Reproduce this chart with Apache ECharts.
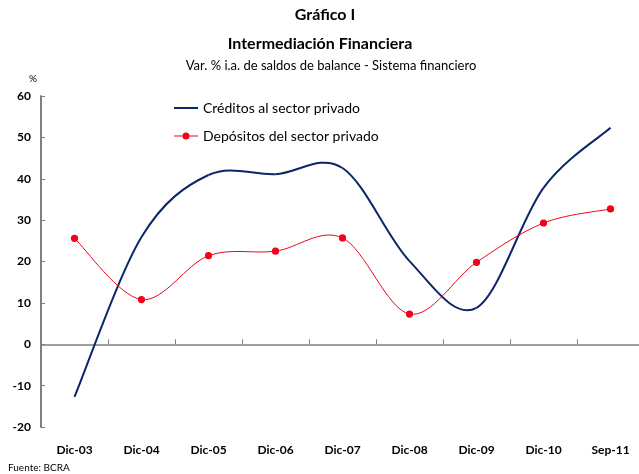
<!DOCTYPE html>
<html>
<head>
<meta charset="utf-8">
<style>
  html, body { margin: 0; padding: 0; background: #fff; }
  #chart { width: 639px; height: 474px; }
</style>
<script src="https://cdn.jsdelivr.net/npm/echarts@6/dist/echarts.min.js"></script>
</head>
<body>
<div id="chart"></div>
<script>
const categories = ['Dic-03', 'Dic-04', 'Dic-05', 'Dic-06', 'Dic-07', 'Dic-08', 'Dic-09', 'Dic-10', 'Sep-11']
const creditos = [-12.7, 25.9, 40.9, 41.1, 42.6, 20.1, 8.8, 37.8, 52.3]
const depositos = [25.6, 10.8, 21.4, 22.5, 25.7, 7.3, 19.8, 29.3, 32.7]

const font = 'Lato, "Open Sans", sans-serif'
const blue = '#0d2668'
const red = '#f2001c'

const chart = echarts.init(document.getElementById('chart'))

// Excel-like smoothing (Catmull-Rom), each segment from point i to i+1
function smoothRenderer(values, color, width, dots) {
  return function (params, api) {
    const n = values.length
    const at = k => {
      const j = Math.max(0, Math.min(n - 1, k))
      return api.coord([j, values[j]])
    }
    const i = params.dataIndex
    const p1 = at(i)
    const children = []
    if (i < n - 1) {
      const p0 = at(i - 1), p2 = at(i + 1), p3 = at(i + 2)
      children.push({
        type: 'bezierCurve',
        shape: {
          x1: p1[0], y1: p1[1], x2: p2[0], y2: p2[1],
          cpx1: p1[0] + (p2[0] - p0[0]) / 6, cpy1: p1[1] + (p2[1] - p0[1]) / 6,
          cpx2: p2[0] - (p3[0] - p1[0]) / 6, cpy2: p2[1] - (p3[1] - p1[1]) / 6
        },
        style: { stroke: color, lineWidth: width, fill: null }
      })
    }
    if (dots) {
      children.push({
        type: 'circle',
        z2: 10,
        shape: { cx: p1[0], cy: p1[1], r: 3.6 },
        style: { fill: color }
      })
    }
    return { type: 'group', children }
  }
}

const option = {
  animation: false,
  textStyle: { fontFamily: font },
  title: [
    { text: 'Gráfico I', left: 320, top: 2, textAlign: 'center',
      textStyle: { fontFamily: font, fontSize: 16, fontWeight: 'bold', color: '#000' } },
    { text: 'Intermediación Financiera', left: 315, top: 31, textAlign: 'center',
      textStyle: { fontFamily: font, fontSize: 16, fontWeight: 'bold', color: '#000' } },
    { text: 'Var. % i.a. de saldos de balance - Sistema financiero', left: 326, top: 54, textAlign: 'center',
      textStyle: { fontFamily: font, fontSize: 13, fontWeight: 'normal', color: '#000' } },
    { text: '%', left: 24, top: 69,
      textStyle: { fontFamily: font, fontSize: 10, fontWeight: 'normal', color: '#000' } },
    { text: 'Fuente: BCRA', left: 3, top: 458,
      textStyle: { fontFamily: font, fontSize: 10, fontWeight: 'normal', color: '#000' } }
  ],
  legend: {
    orient: 'vertical',
    left: 169,
    top: 96,
    itemWidth: 24,
    itemHeight: 7,
    itemGap: 14,
    textStyle: { fontFamily: font, fontSize: 14, color: '#000' },
    data: [
      { name: 'Créditos al sector privado', icon: 'path://M0,2.6H24V4.4H0Z M0,0H0.01V0.01H0Z M0,7H0.01V6.99H0Z' },
      { name: 'Depósitos del sector privado', icon: 'path://M0,3H24V4H0Z M8.5,3.5A3.5,3.5,0,1,1,15.5,3.5A3.5,3.5,0,1,1,8.5,3.5Z' }
    ]
  },
  grid: { left: 41, top: 96, width: 603, bottom: 47, outerBoundsMode: 'none' },
  xAxis: [
    {
      type: 'category',
      data: categories,
      boundaryGap: true,
      axisLine: { onZero: true, lineStyle: { color: '#808080', width: 1.5 } },
      axisTick: { show: true, inside: true, length: 5, lineStyle: { color: '#808080' } },
      axisLabel: { show: false },
      splitLine: { show: false }
    },
    {
      type: 'category',
      data: categories,
      position: 'bottom',
      boundaryGap: true,
      axisLine: { show: false },
      axisTick: { show: false },
      axisLabel: { margin: 17, fontFamily: font, fontSize: 12, fontWeight: 'bold', color: '#000' },
      splitLine: { show: false }
    }
  ],
  yAxis: {
    type: 'value',
    min: -20,
    max: 60,
    interval: 10,
    axisLine: { show: true, lineStyle: { color: '#808080', width: 2 } },
    axisTick: { show: true, inside: true, length: 4, lineStyle: { color: '#808080' } },
    axisLabel: { margin: 10, fontFamily: font, fontSize: 12, fontWeight: 'bold', color: '#000' },
    splitLine: { show: false }
  },
  series: [
    {
      name: 'Créditos al sector privado',
      type: 'custom',
      data: creditos.map((v, i) => [i, v]),
      encode: { x: 0, y: 1 },
      itemStyle: { color: blue },
      renderItem: smoothRenderer(creditos, blue, 2, false)
    },
    {
      name: 'Depósitos del sector privado',
      type: 'custom',
      data: depositos.map((v, i) => [i, v]),
      encode: { x: 0, y: 1 },
      itemStyle: { color: red },
      renderItem: smoothRenderer(depositos, red, 1, true)
    }
  ]
}

chart.setOption(option)
window.addEventListener('resize', () => {
  chart.resize()
})
</script>
</body>
</html>
